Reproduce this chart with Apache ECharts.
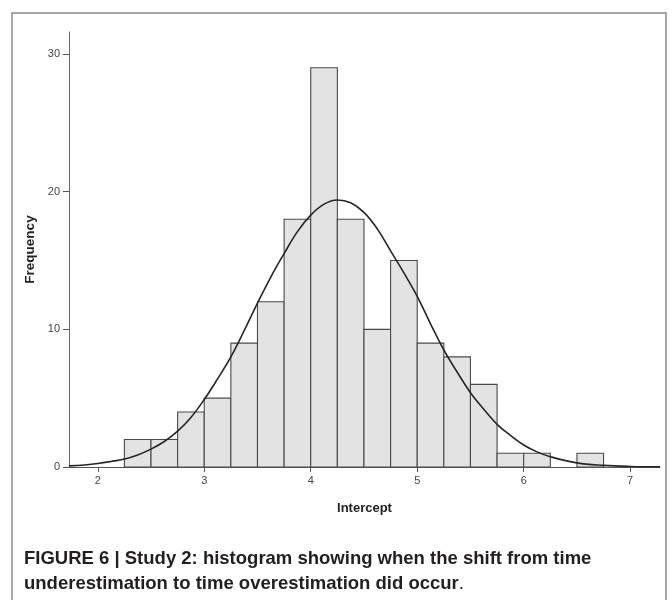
<!DOCTYPE html>
<html>
<head>
<meta charset="utf-8">
<script src="https://cdn.jsdelivr.net/npm/echarts@6/dist/echarts.min.js"></script>
<style>
html,body{margin:0;padding:0;background:#fff;}
#chart{width:672px;height:600px;}
</style>
</head>
<body>
<div id="chart"></div>
<script>
// ---- data ----
var binStarts = [2.25, 2.5, 2.75, 3.0, 3.25, 3.5, 3.75, 4.0, 4.25, 4.5, 4.75, 5.0, 5.25, 5.5, 5.75, 6.0, 6.25, 6.5];
var binEnds   = [2.5, 2.75, 3.0, 3.25, 3.5, 3.75, 4.0, 4.25, 4.5, 4.75, 5.0, 5.25, 5.5, 5.75, 6.0, 6.25, 6.5, 6.75];
var counts    = [2, 2, 4, 5, 9, 12, 18, 29, 18, 10, 15, 9, 8, 6, 1, 1, 0, 1];
// normal curve
var curveX    = [1.73, 1.875, 2.0, 2.125, 2.25, 2.375, 2.5, 2.625, 2.75, 2.875, 3.0, 3.125, 3.25, 3.375, 3.5, 3.625, 3.75, 3.875, 4.0, 4.125, 4.25, 4.375, 4.5, 4.625, 4.75, 4.875, 5.0, 5.125, 5.25, 5.375, 5.5, 5.625, 5.75, 5.875, 6.0, 6.125, 6.25, 6.5, 6.75, 7.0, 7.28];
var curveY    = [0.08, 0.15, 0.25, 0.4, 0.58, 0.88, 1.3, 1.85, 2.6, 3.6, 4.9, 6.4, 8.0, 9.9, 11.9, 13.8, 15.5, 17.1, 18.3, 19.1, 19.4, 19.2, 18.5, 17.3, 15.7, 14.1, 12.4, 10.4, 8.5, 6.9, 5.4, 4.2, 3.1, 2.3, 1.6, 1.1, 0.75, 0.3, 0.12, 0.04, 0.01];
var xTicks    = [2, 3, 4, 5, 6, 7];
var yTicks    = [0, 10, 20, 30];
var xTitle    = 'Intercept';
var yTitle    = 'Frequency';
var caption1  = 'FIGURE 6 | Study 2: histogram showing when the shift from time';
var caption2  = 'underestimation to time overestimation did occur';

var histData = binStarts.map(function (s, i) { return [s, binEnds[i], counts[i]]; });
var curveData = curveX.map(function (x, i) { return [x, curveY[i]]; });

var chart = echarts.init(document.getElementById('chart'), null, {renderer: 'canvas'});
var font = '"Liberation Sans", Arial, sans-serif';

chart.setOption({
  animation: false,
  backgroundColor: '#fff',
  grid: {left: 69, right: 12, top: 32, bottom: 133, containLabel: false},
  xAxis: {
    type: 'value', min: 1.73, max: 7.28,
    name: xTitle, nameLocation: 'middle', nameGap: 35,
    nameTextStyle: {fontFamily: font, fontWeight: 'bold', fontSize: 13, color: '#222'},
    axisLine: {show: true, lineStyle: {color: '#555', width: 1}},
    axisTick: {show: true, length: 5, customValues: xTicks, lineStyle: {color: '#555'}},
    axisLabel: {customValues: xTicks, margin: 8, fontFamily: font, fontSize: 11, color: '#444'},
    splitLine: {show: false}
  },
  yAxis: {
    type: 'value', min: 0, max: 31.6,
    name: yTitle, nameLocation: 'middle', nameGap: 31, nameRotate: 90,
    nameTextStyle: {fontFamily: font, fontWeight: 'bold', fontSize: 13.5, color: '#222'},
    axisLine: {show: true, lineStyle: {color: '#666', width: 1}},
    axisTick: {show: true, length: 6, customValues: yTicks, lineStyle: {color: '#555'}},
    axisLabel: {customValues: yTicks, margin: 9, fontFamily: font, fontSize: 11, color: '#444'},
    splitLine: {show: false}
  },
  series: [
    {
      type: 'custom',
      data: histData,
      z: 2,
      renderItem: function (params, api) {
        var h = api.value(2);
        if (!h) return null;
        var p0 = api.coord([api.value(0), h]);
        var p1 = api.coord([api.value(1), 0]);
        return {
          type: 'rect',
          shape: {x: p0[0], y: p0[1], width: p1[0] - p0[0], height: p1[1] - p0[1]},
          style: {fill: '#e3e3e3', stroke: '#4a4a4a', lineWidth: 1.1}
        };
      }
    },
    {
      type: 'line',
      data: curveData,
      smooth: 0.4,
      showSymbol: false,
      symbol: 'none',
      z: 5,
      lineStyle: {color: '#262626', width: 1.6}
    }
  ],
  graphic: [
    {
      type: 'rect', z: -1, silent: true,
      shape: {x: 12, y: 13, width: 654, height: 620},
      style: {fill: 'none', stroke: '#8c8c8c', lineWidth: 1.5}
    },
    {
      type: 'text', left: 24, top: 549,
      style: {text: caption1, font: 'bold 18.5px ' + font, fill: '#231f20'}
    },
    {
      type: 'text', left: 24, top: 574,
      style: {
        text: '{b|' + caption2 + '}{n|.}',
        rich: {
          b: {font: 'bold 18.5px ' + font, fill: '#231f20'},
          n: {font: '18.5px ' + font, fill: '#231f20'}
        }
      }
    }
  ]
});
</script>
</body>
</html>
